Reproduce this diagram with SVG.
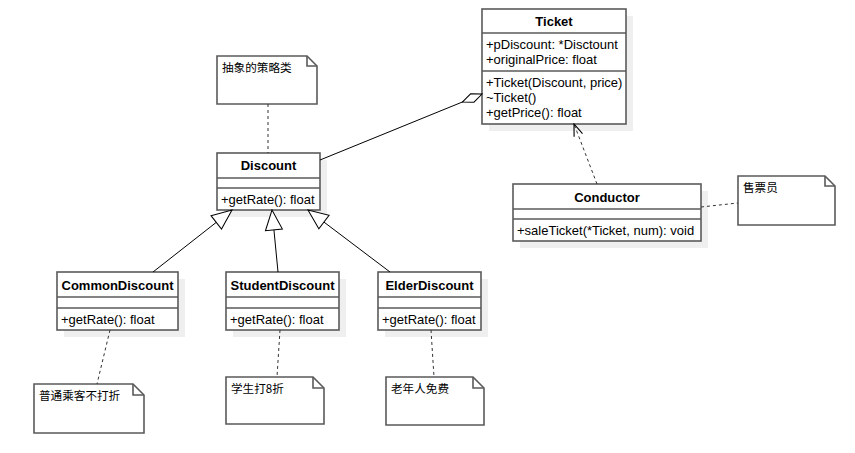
<svg xmlns="http://www.w3.org/2000/svg" width="855" height="453" viewBox="0 0 855 453">
<style>
text{font-family:"Liberation Sans",Arial,"Noto Sans CJK SC",sans-serif;font-size:13px;fill:#000}
.title{font-weight:bold;text-anchor:middle}
.cjk{font-family:"Noto Sans CJK SC","Liberation Sans",sans-serif;font-size:11.6px}
.box{fill:#fff;stroke:#5a5a5a;stroke-width:1.6}
.sep{stroke:#5a5a5a;stroke-width:1.6;fill:none}
.shadow{fill:#efefef}
.note{fill:#fff;stroke:#5a5a5a;stroke-width:1.6}
.fold{fill:none;stroke:#5a5a5a;stroke-width:1.6}
.solid{stroke:#000;stroke-width:1;fill:none}
.dash{stroke:#333;stroke-width:1;fill:none;stroke-dasharray:3 3}
</style>
<defs>
<marker id="tri" markerUnits="userSpaceOnUse" markerWidth="22" markerHeight="20" viewBox="0 0 22 20" refX="21" refY="10" orient="auto">
<path d="M1,1.5 L21,10 L1,18.5 Z" fill="#fff" stroke="#000" stroke-width="1"/>
</marker>
<marker id="diamond" markerUnits="userSpaceOnUse" markerWidth="23" markerHeight="12" viewBox="0 0 23 12" refX="22" refY="6" orient="auto">
<path d="M1,6 L11.5,1.5 L22,6 L11.5,10.5 Z" fill="#fff" stroke="#000" stroke-width="1"/>
</marker>
<marker id="open" markerUnits="userSpaceOnUse" markerWidth="14" markerHeight="12" viewBox="0 0 14 12" refX="13" refY="6" orient="auto">
<path d="M1,1.5 L13,6 L1,10.5" fill="none" stroke="#000" stroke-width="1.1"/>
</marker>
</defs>

<g id="Ticket">
<rect class="shadow" x="489" y="16" width="144" height="115"/>
<rect class="box" x="482" y="9" width="144" height="115"/>
<line class="sep" x1="482" y1="33" x2="626" y2="33"/>
<line class="sep" x1="482" y1="71" x2="626" y2="71"/>
<text class="title" x="554" y="25.5">Ticket</text>
<text x="486" y="48.5">+pDiscount: *Disctount</text>
<text x="486" y="63.5">+originalPrice: float</text>
<text x="486" y="86.5">+Ticket(Discount, price)</text>
<text x="486" y="101.5">~Ticket()</text>
<text x="486" y="116.5">+getPrice(): float</text>
</g>

<g id="Discount">
<rect class="shadow" x="224" y="160" width="103" height="57"/>
<rect class="box" x="217" y="153" width="103" height="57"/>
<line class="sep" x1="217" y1="178" x2="320" y2="178"/>
<line class="sep" x1="217" y1="188" x2="320" y2="188"/>
<text class="title" x="268.5" y="170">Discount</text>
<text x="221" y="203.5">+getRate(): float</text>
</g>

<g id="CommonDiscount">
<rect class="shadow" x="64" y="279" width="121" height="58"/>
<rect class="box" x="57" y="272" width="121" height="58"/>
<line class="sep" x1="57" y1="297" x2="178" y2="297"/>
<line class="sep" x1="57" y1="308" x2="178" y2="308"/>
<text class="title" x="117.5" y="289.5">CommonDiscount</text>
<text x="61" y="323.5">+getRate(): float</text>
</g>

<g id="StudentDiscount">
<rect class="shadow" x="233" y="279" width="113" height="58"/>
<rect class="box" x="226" y="272" width="113" height="58"/>
<line class="sep" x1="226" y1="297" x2="339" y2="297"/>
<line class="sep" x1="226" y1="308" x2="339" y2="308"/>
<text class="title" x="282.5" y="289.5">StudentDiscount</text>
<text x="230" y="323.5">+getRate(): float</text>
</g>

<g id="ElderDiscount">
<rect class="shadow" x="385" y="279" width="103" height="58"/>
<rect class="box" x="378" y="272" width="103" height="58"/>
<line class="sep" x1="378" y1="297" x2="481" y2="297"/>
<line class="sep" x1="378" y1="308" x2="481" y2="308"/>
<text class="title" x="429.5" y="289.5">ElderDiscount</text>
<text x="382" y="323.5">+getRate(): float</text>
</g>

<g id="Conductor">
<rect class="shadow" x="520" y="191" width="188" height="57"/>
<rect class="box" x="513" y="184" width="188" height="57"/>
<line class="sep" x1="513" y1="209" x2="701" y2="209"/>
<line class="sep" x1="513" y1="219" x2="701" y2="219"/>
<text class="title" x="607" y="201.5">Conductor</text>
<text x="517" y="234.5">+saleTicket(*Ticket, num): void</text>
</g>

<g id="note-abstract">
<path class="note" d="M217,56 H307 L317,66 V104 H217 Z"/>
<path class="fold" d="M307,56 V66 H317"/>
<text class="cjk" x="222" y="71.5">抽象的策略类</text>
</g>

<g id="note-conductor">
<path class="note" d="M738,176 H825 L835,186 V225 H738 Z"/>
<path class="fold" d="M825,176 V186 H835"/>
<text class="cjk" x="743" y="191.5">售票员</text>
</g>

<g id="note-common">
<path class="note" d="M34,384 H133 L144,395 V433 H34 Z"/>
<path class="fold" d="M133,384 V395 H144"/>
<text class="cjk" x="39" y="400">普通乘客不打折</text>
</g>

<g id="note-student">
<path class="note" d="M226,377 H313 L324,388 V424 H226 Z"/>
<path class="fold" d="M313,377 V388 H324"/>
<text class="cjk" x="231" y="392.5">学生打8折</text>
</g>

<g id="note-elder">
<path class="note" d="M386,377 H473 L484,388 V425 H386 Z"/>
<path class="fold" d="M473,377 V388 H484"/>
<text class="cjk" x="391" y="392.5">老年人免费</text>
</g>

<g id="connectors">
<line class="solid" x1="320" y1="160" x2="482" y2="94" marker-end="url(#diamond)"/>
<line class="solid" x1="153" y1="272" x2="232" y2="210" marker-end="url(#tri)"/>
<line class="solid" x1="278" y1="272" x2="272" y2="210" marker-end="url(#tri)"/>
<line class="solid" x1="390" y1="272" x2="308" y2="210" marker-end="url(#tri)"/>
<line class="dash" x1="597" y1="184" x2="574" y2="124" marker-end="url(#open)"/>
<line class="dash" x1="268" y1="104" x2="268" y2="153"/>
<line class="dash" x1="110" y1="330" x2="97" y2="384"/>
<line class="dash" x1="280" y1="330" x2="277" y2="377"/>
<line class="dash" x1="431" y1="330" x2="434" y2="377"/>
<line class="dash" x1="701" y1="207" x2="738" y2="203"/>
</g>
</svg>
